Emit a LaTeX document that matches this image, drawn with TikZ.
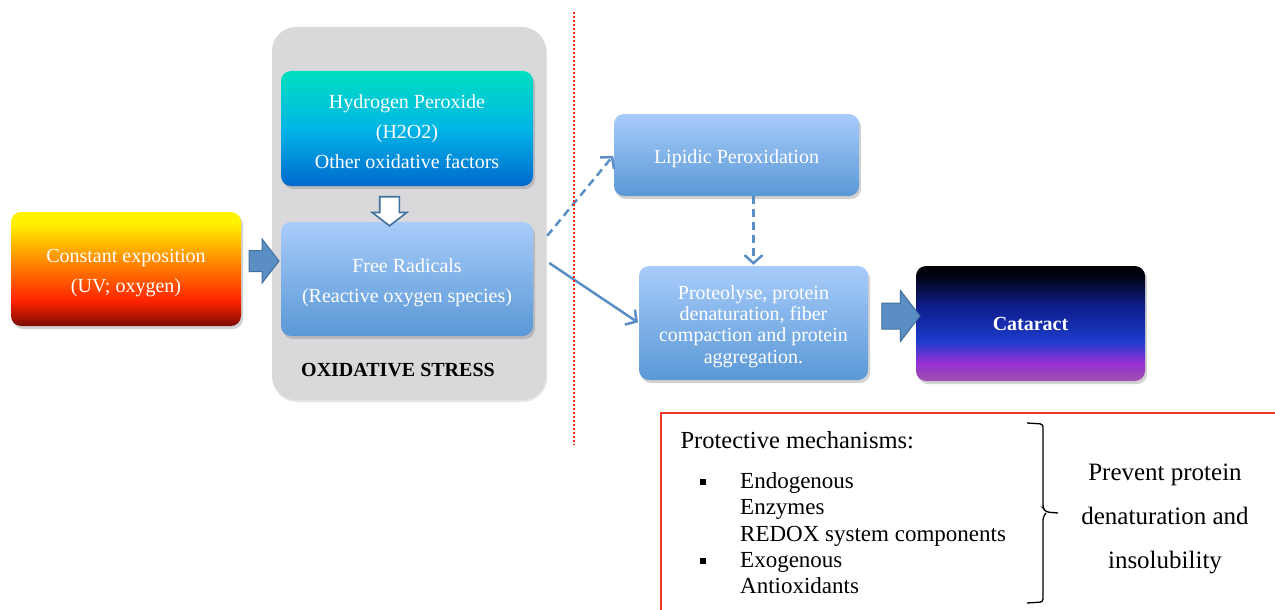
\documentclass[tikz,border=0pt]{standalone}
\usepackage{fontspec}
\setmainfont{Liberation Serif}
\usetikzlibrary{positioning,shapes.arrows,shadows,arrows.meta}

\definecolor{expoY}{HTML}{FFF200}
\definecolor{expoO}{HTML}{FF9A00}
\definecolor{expoR}{HTML}{FF2200}
\definecolor{expoD}{HTML}{7A0C02}
\definecolor{hTop}{HTML}{00DFC0}
\definecolor{hMid}{HTML}{00B6E6}
\definecolor{hBot}{HTML}{0068CE}
\definecolor{blueTop}{HTML}{A8CCFA}
\definecolor{blueBot}{HTML}{5A98D6}
\definecolor{catTop}{HTML}{000008}
\definecolor{catNavy}{HTML}{0E1E8E}
\definecolor{catMid}{HTML}{1E3CCC}
\definecolor{catPur}{HTML}{9530D5}
\definecolor{catBot}{HTML}{A050B0}
\definecolor{arrowblue}{HTML}{5B8EC4}
\definecolor{arrowedge}{HTML}{41719C}
\definecolor{groupgray}{HTML}{D9D9DB}
\definecolor{sepred}{HTML}{FF2A10}
\definecolor{boxred}{HTML}{E83A24}

\pgfdeclareverticalshading{expoShade}{100bp}{color(0bp)=(expoD); color(25bp)=(expoD);
  color(36bp)=(expoR); color(56bp)=(expoO); color(70bp)=(expoY); color(100bp)=(expoY)}
\pgfdeclareverticalshading{hShade}{100bp}{color(0bp)=(hBot); color(25bp)=(hBot);
  color(50bp)=(hMid); color(75bp)=(hTop); color(100bp)=(hTop)}
\pgfdeclareverticalshading{catShade}{100bp}{color(0bp)=(catBot); color(25bp)=(catBot);
  color(33bp)=(catPur); color(42bp)=(catMid); color(57bp)=(catNavy); color(72bp)=(catTop); color(100bp)=(catTop)}

\newcommand{\boxstrut}{\rule{0pt}{21pt}}

\begin{document}
\begin{tikzpicture}[x=1pt,y=-1pt,
    box/.style={rectangle,rounded corners=10pt,align=center,text=white,inner sep=4pt,
      font=\fontsize{20}{30}\selectfont,
      drop shadow={opacity=0.35,shadow xshift=2pt,shadow yshift=-3pt}},
    bluebox/.style={box,top color=blueTop,bottom color=blueBot},
    fatarrow/.style={single arrow,single arrow tip angle=105,fill=arrowblue,
      draw=arrowedge,line width=1pt,inner xsep=0pt},
    thinarrow/.style={arrowblue,line width=2.5pt,shorten >=1pt,
      -{Straight Barb[length=8pt,width=18pt]}},
    dashline/.style={dash pattern=on 8pt off 5pt},
    sepline/.style={sepred,line width=2pt,dash pattern=on 2pt off 2pt},
    bracebar/.style={line width=1.3pt,rounded corners=3pt}]
  \useasboundingbox (0,0) rectangle (1275,610);
  \fill[white] (0,0) rectangle (1275,610);

  % oxidative stress group
  \node[rounded corners=24pt,fill=groupgray,minimum width=274pt,minimum height=373pt,
    drop shadow={opacity=0.2,shadow xshift=1pt,shadow yshift=-2pt}] (stress) at (409,213.5) {};
  \node[box,shading=hShade,minimum width=252pt,minimum height=115pt] (h2o2) at (407,128.5)
    {\boxstrut Hydrogen Peroxide\\(H2O2)\\Other oxidative factors};
  \node[bluebox,minimum width=252pt,minimum height=114pt] (free) at (407,279)
    {\boxstrut Free Radicals\\(Reactive oxygen species)};
  \node[font=\fontsize{20}{24}\selectfont\bfseries] (stresslbl) at (398,370) {OXIDATIVE STRESS};

  \node[box,shading=expoShade,minimum width=230pt,minimum height=114pt] (expo) at (126,269)
    {\boxstrut Constant exposition\\(UV; oxygen)};
  \node[bluebox,minimum width=245pt,minimum height=82pt] (lipid) at (736.5,155) {\boxstrut Lipidic Peroxidation};
  \node[bluebox,minimum width=229pt,minimum height=114pt,font=\fontsize{20}{21.3}\selectfont] (prot) at (753.5,323)
    {\boxstrut Proteolyse, protein\\denaturation, fiber\\compaction and protein\\aggregation.};
  \node[box,shading=catShade,minimum width=229pt,minimum height=115pt,
    font=\fontsize{20}{24}\selectfont\bfseries] (cat) at (1030.5,323.5) {Cataract};

  % block arrows
  \node[fatarrow,minimum height=30pt,inner ysep=10pt,single arrow head extend=11.5pt] (expo2free) at (260,261) {};
  \node[fatarrow,fill=white,line width=1.6pt,rotate=-90,minimum height=29pt,inner ysep=9pt,
    single arrow head extend=7.5pt] (h2o22free) at (389.5,207.5) {};
  \node[fatarrow,minimum height=38pt,inner ysep=12.5pt,single arrow head extend=12.5pt] (prot2cat) at (896,316) {};

  \path[thinarrow]
    ([xshift=14pt,yshift=-14pt]free.north east) edge[dashline] (lipid.west)
    ([xshift=16pt,yshift=16pt]free.east) edge (prot.west)
    (lipid.south -| prot.north) edge[dashline] (prot.north);

  \coordinate (sepTop) at (574,12);
  \coordinate (sepBot) at (574,445);
  \draw[sepline] (sepTop) -- (sepBot);

  % protective mechanisms
  \draw[boxred,line width=1.6pt] (661,700) |- (1400,413);
  \node[anchor=west,font=\fontsize{24.5}{28}\selectfont] (protTitle) at (677,440) {Protective mechanisms:};
  \node[anchor=north west,inner sep=0pt,font=\fontsize{23}{26.3}\selectfont] (mechs) at (700,470)
    {\begin{tabular}{@{}p{40pt}@{}l@{}}
      \rule[4pt]{6pt}{6pt} & Endogenous\\
       & Enzymes\\
       & REDOX system components\\
      \rule[4pt]{6pt}{6pt} & Exogenous\\
       & Antioxidants
    \end{tabular}};
  \coordinate (braceTop) at (1027,423);
  \coordinate (braceTip) at (1058,513);
  \coordinate (braceBot) at (1027,603);
  \draw[bracebar] (braceTop) -- ++(16,1) -- ++(0,84) -- ++(3,4) -- (braceTip)
    ([xshift=-12pt]braceTip) -- ++(-3,4) -- (1043,602) -- (braceBot);
  \node[align=center,font=\fontsize{25}{44}\selectfont] (prevent) at (1165,519)
    {Prevent protein\\denaturation and\\insolubility};
\end{tikzpicture}
\end{document}
